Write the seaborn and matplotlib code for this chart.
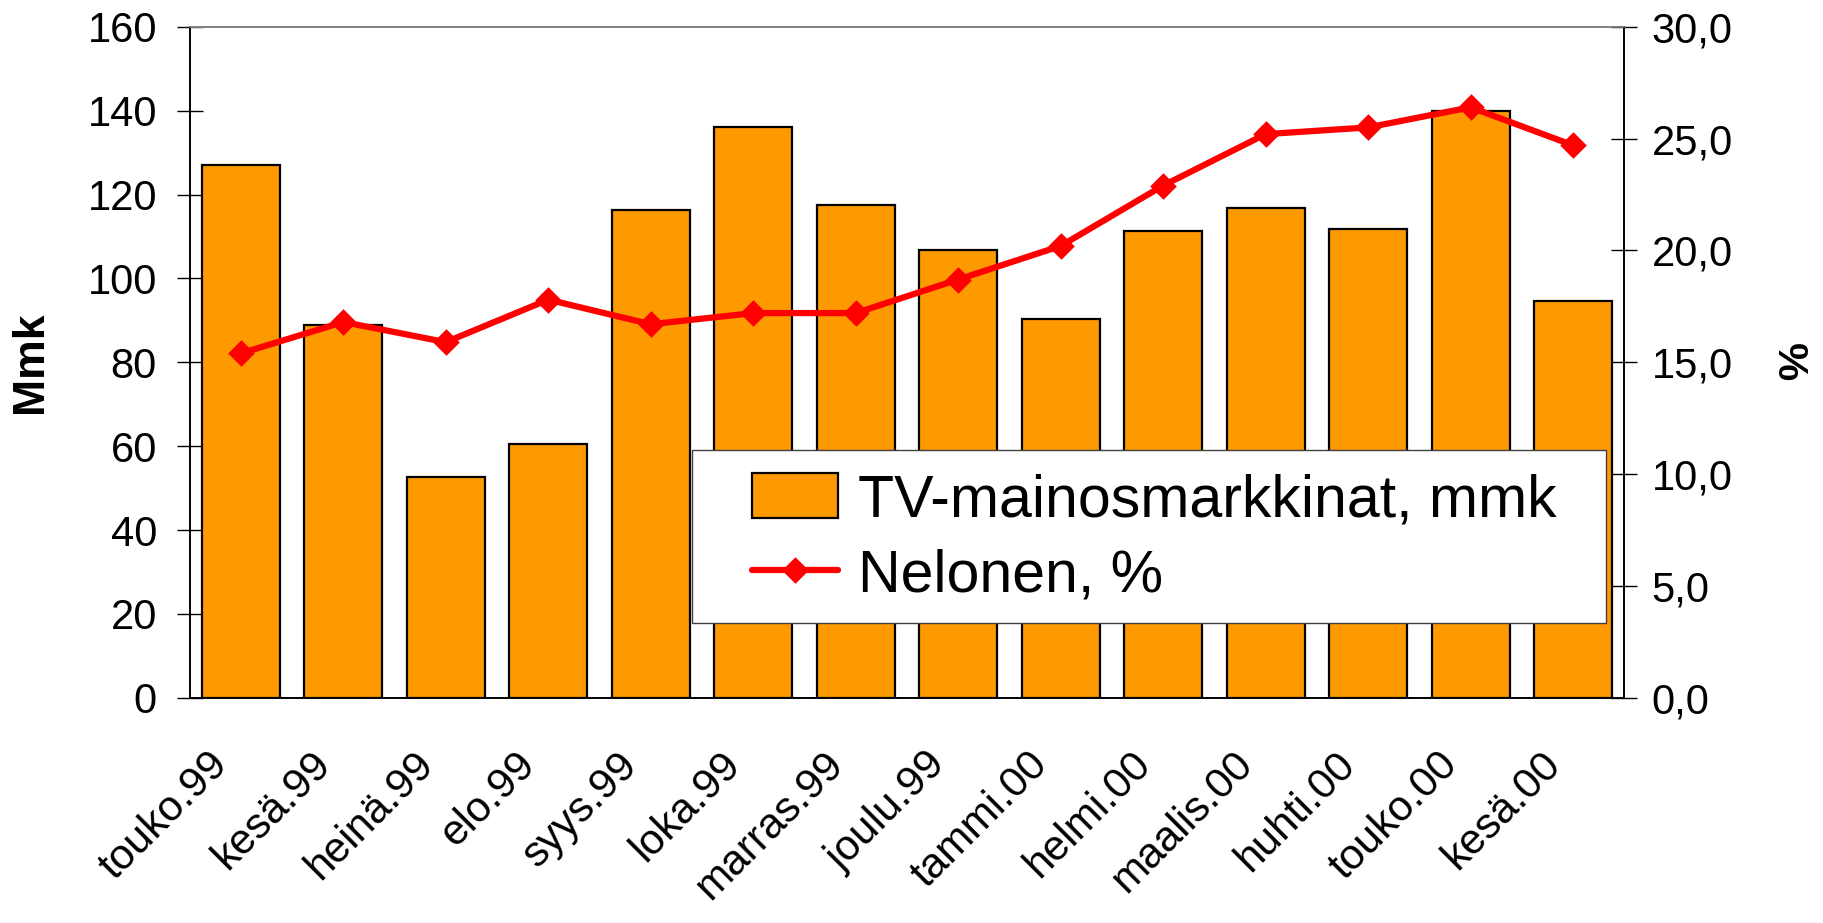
import numpy as np
import pandas as pd
import matplotlib
matplotlib.use('Agg')
import matplotlib.pyplot as plt
import matplotlib.transforms as mtransforms
from matplotlib.patches import Rectangle
import seaborn as sns
from matplotlib.ticker import FixedLocator, FuncFormatter

# 데이터
kuukaudet = ['touko.99', 'kesä.99', 'heinä.99', 'elo.99', 'syys.99', 'loka.99', 'marras.99',
             'joulu.99', 'tammi.00', 'helmi.00', 'maalis.00', 'huhti.00', 'touko.00', 'kesä.00']
mainos_mmk = [127.0, 88.8, 52.7, 60.5, 116.3, 136.2, 117.6, 106.8, 90.2, 111.2, 116.9, 111.8, 139.8, 94.7]
nelonen_pct = [15.4, 16.8, 15.9, 17.8, 16.7, 17.2, 17.2, 18.7, 20.2, 22.9, 25.2, 25.5, 26.4, 24.7]

sns.set_style('white')
plt.rcParams['font.family'] = ['Liberation Sans', 'DejaVu Sans']
plt.rcParams['text.color'] = 'black'
plt.rcParams['xtick.color'] = 'black'
plt.rcParams['ytick.color'] = 'black'
plt.rcParams['axes.labelcolor'] = 'black'

df = pd.DataFrame({'kk': kuukaudet, 'mmk': mainos_mmk, 'pct': nelonen_pct})

fig = plt.figure(figsize=(18.23, 9.23), dpi=100)
ax = fig.add_axes([0.104, 0.244, 0.787, 0.727])

sns.barplot(data=df, x='kk', y='mmk', order=kuukaudet, color='#FF9900', saturation=1,
            edgecolor='black', linewidth=1.6, width=0.76, ax=ax, label='TV-mainosmarkkinat, mmk')

ax2 = ax.twinx()
sns.pointplot(data=df, x='kk', y='pct', order=kuukaudet, color='#FF0000', markers='D',
              linestyles='-', markersize=10, linewidth=4.5, ax=ax2, label='Nelonen, %')

ax.set_xlim(-0.5, len(kuukaudet) - 0.5)
ax.set_ylim(0, 160)
ax2.set_ylim(0, 30)
ax.set_yticks(np.arange(0, 161, 20))
ax2.set_yticks(np.arange(0, 31, 5))
ax2.yaxis.set_major_formatter(FuncFormatter(lambda v, p: f'{v:.1f}'.replace('.', ',')))

ax.set_xlabel('')
ax2.set_xlabel('')
ax.set_ylabel('Mmk', fontsize=32, fontweight='bold', labelpad=26)
ax2.set_ylabel('%', fontsize=31, fontweight='bold', rotation=270, labelpad=54)

# x-akselin jakoviivat kategorioiden väliin
ax.xaxis.set_minor_locator(FixedLocator(np.arange(-0.5, len(kuukaudet), 1.0)))
ax.tick_params(axis='x', which='minor', direction='inout', length=19, width=1, color='black')
ax.tick_params(axis='x', which='major', length=0, pad=30)
ax.tick_params(axis='y', direction='inout', length=19, width=1, color='black', labelsize=30, pad=14)
ax2.tick_params(axis='y', direction='inout', length=19, width=1, color='black', labelsize=30, pad=10)
ax2.tick_params(axis='x', which='both', length=0)
siirto = mtransforms.ScaledTranslation(-0.33, -0.05, fig.dpi_scale_trans)
for lab in ax.get_xticklabels():
    lab.set_rotation(45)
    lab.set_ha('right')
    lab.set_rotation_mode('anchor')
    lab.set_fontsize(30.5)
    lab.set_transform(lab.get_transform() + siirto)

for a in (ax, ax2):
    a.spines['top'].set_color('#808080')
    a.spines['left'].set_color('black')
    a.spines['right'].set_color('black')
    a.spines['bottom'].set_color('black')
    for s in a.spines.values():
        s.set_linewidth(1.2)

# selitteen kehys
kehys = Rectangle((0.3503, 0.1112), 0.6372, 0.2578, transform=ax2.transAxes,
                  facecolor='white', edgecolor='#404040', linewidth=1.0, zorder=10)
ax2.add_patch(kehys)

h1, l1 = ax.get_legend_handles_labels()
h2, l2 = ax2.get_legend_handles_labels()
if ax.get_legend() is not None:
    ax.get_legend().remove()
leg = ax2.legend(h1 + h2, l1 + l2, loc='center left', bbox_to_anchor=(0.392, 0.2379),
                 fontsize=42.5, frameon=False, handlelength=1.45, handleheight=0.8,
                 handletextpad=0.34, labelspacing=0.34, borderpad=0, borderaxespad=0)
leg.set_zorder(11)

fig.savefig('out.png', dpi=100)
